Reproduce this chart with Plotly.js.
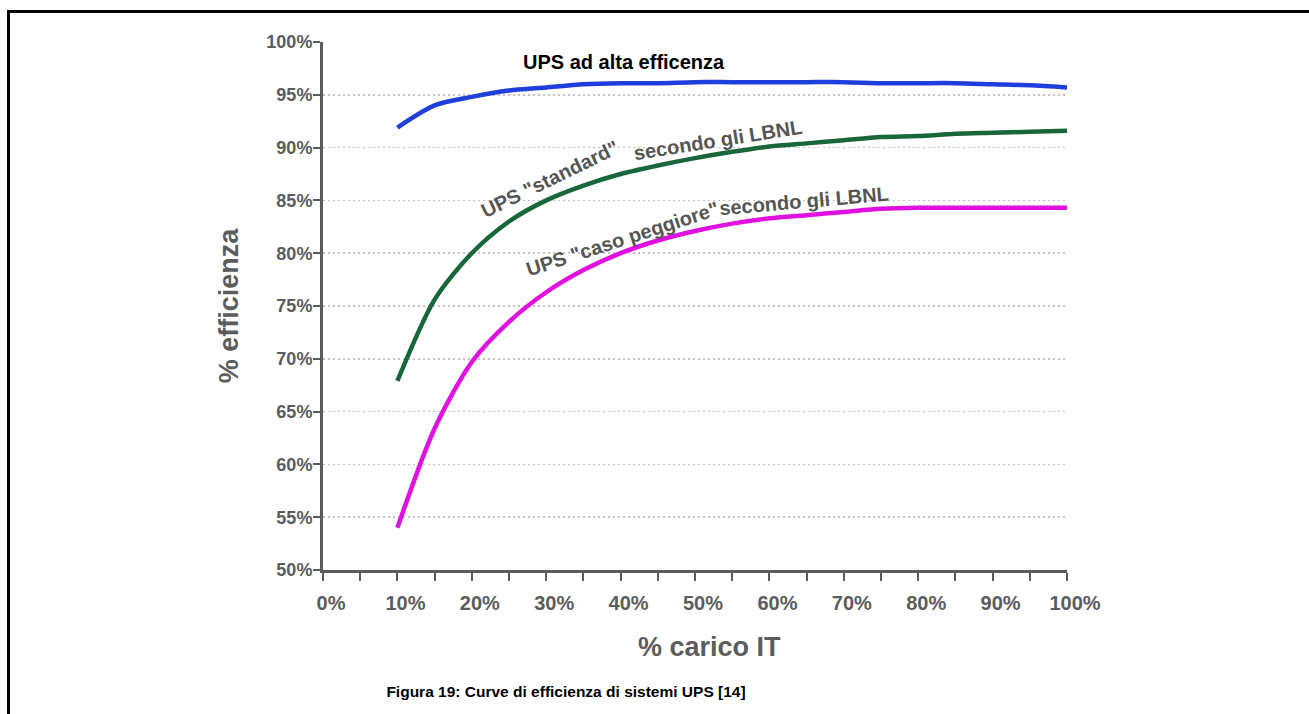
<!DOCTYPE html>
<html>
<head>
<meta charset="utf-8">
<script src="https://cdn.plot.ly/plotly-3.0.1.min.js"></script>
<style>
  html, body { margin: 0; padding: 0; background: #ffffff; overflow: hidden; width: 1309px; height: 714px; }
  #frame { position: absolute; left: 7px; top: 10px; width: 1302px; height: 704px; border-top: 3px solid #000; border-left: 3px solid #000; box-sizing: border-box; }
  #chart { position: absolute; left: 0; top: 0; width: 1309px; height: 714px; overflow: hidden; }
  .modebar-container { display: none !important; }
  #caption { position: absolute; left: 0; width: 1132px; top: 683px; text-align: center;
             font-family: "Liberation Sans", Arial, sans-serif; font-weight: bold; font-size: 15.5px; color: #000; }
</style>
</head>
<body>
<div id="frame"></div>
<div id="chart"></div>
<div id="caption">Figura 19: Curve di efficienza di sistemi UPS [14]</div>
<script>
// ---- data ----
const load = [10, 15, 20, 25, 30, 35, 40, 45, 50, 55, 60, 65, 70, 75, 80, 85, 90, 95, 100];
const upsHighEff   = [91.9, 94.0, 94.8, 95.4, 95.7, 96.0, 96.1, 96.1, 96.2, 96.2, 96.2, 96.2, 96.2, 96.1, 96.1, 96.1, 96.0, 95.9, 95.7];
const upsStandard  = [67.9, 75.6, 80.0, 83.0, 85.0, 86.4, 87.5, 88.3, 89.0, 89.6, 90.1, 90.4, 90.7, 91.0, 91.1, 91.3, 91.4, 91.5, 91.6];
const upsWorstCase = [54.0, 63.4, 69.7, 73.5, 76.3, 78.4, 80.0, 81.2, 82.1, 82.8, 83.3, 83.6, 83.9, 84.2, 84.3, 84.3, 84.3, 84.3, 84.3];
const xTickVals = [0, 10, 20, 30, 40, 50, 60, 70, 80, 90, 100];
const yTickVals = [50, 55, 60, 65, 70, 75, 80, 85, 90, 95, 100];
const labelHigh = "UPS ad alta efficenza";
const labelStdParts = ['UPS "standard"', 'secondo gli LBNL'];
const labelWorstParts = ['UPS "caso peggiore"', 'secondo gli LBNL'];
const xTitle = "% carico IT";
const yTitle = "% efficienza";

const FONT = '"Liberation Sans", Arial, sans-serif';
const GREY = '#5c5c5c';
const LABEL = '#555555';

const mk = (y, color) => ({
  x: load, y: y, type: 'scatter', mode: 'lines',
  line: { color: color, width: 4.5, shape: 'spline', smoothing: 0.8 },
  hoverinfo: 'skip', showlegend: false
});

const data = [
  mk(upsHighEff, '#1f3fdc'),
  mk(upsStandard, '#17673a'),
  mk(upsWorstCase, '#e010e0')
];

const lab = (x, y, text, angle, size, color) => ({
  xref: 'x', yref: 'y', x: x, y: y, text: '<b>' + text + '</b>', showarrow: false,
  textangle: angle, font: { family: FONT, size: size, color: color }
});

const layout = {
  width: 1309, height: 714,
  margin: { l: 323, r: 242, t: 42, b: 144 },
  paper_bgcolor: 'rgba(0,0,0,0)',
  plot_bgcolor: 'rgba(0,0,0,0)',
  font: { family: FONT, color: GREY },
  showlegend: false,
  xaxis: {
    range: [0, 100],
    tickvals: xTickVals,
    ticktext: xTickVals.map(v => v + '%'),
    showgrid: false, zeroline: false,
    showline: true, linecolor: GREY, linewidth: 3,
    ticks: 'outside', ticklen: 8, tickwidth: 2, tickcolor: GREY,
    minor: { dtick: 5, tick0: 0, ticks: 'outside', ticklen: 8, tickwidth: 2, tickcolor: GREY, showgrid: false },
    tickfont: { family: FONT, size: 20, color: GREY, weight: 'bold' },
    ticklabelstandoff: 5,
    ticklabelshift: 8,
    fixedrange: true
  },
  yaxis: {
    range: [50, 100],
    tickvals: yTickVals,
    ticktext: yTickVals.map(v => v + '%'),
    showgrid: true, gridcolor: '#c2c2c2', gridwidth: 1.5, griddash: '2px,3px',
    zeroline: false,
    showline: true, linecolor: GREY, linewidth: 3,
    ticks: 'outside', ticklen: 7, tickwidth: 2, tickcolor: GREY,
    tickfont: { family: FONT, size: 18, color: GREY, weight: 'bold' },
    ticklabelstandoff: -3,
    title: { text: '<b>' + yTitle + '</b>', font: { family: FONT, size: 27, color: GREY }, standoff: 20 },
    fixedrange: true
  },
  annotations: [
    lab(40.4, 98.1, labelHigh, 0, 20, '#000'),
    lab(30.5, 87.0, labelStdParts[0], -26, 20, LABEL),
    lab(53.1, 90.7, labelStdParts[1], -9, 20, LABEL),
    lab(40.2, 81.3, labelWorstParts[0], -18, 20, LABEL),
    lab(64.6, 84.9, labelWorstParts[1], -5, 20, LABEL),
    { xref: 'paper', yref: 'paper', x: 0.519, y: -0.146, yanchor: 'middle', xanchor: 'center',
      text: '<b>' + xTitle + '</b>', showarrow: false, font: { family: FONT, size: 27, color: GREY } }
  ]
};

Plotly.newPlot('chart', data, layout, { displayModeBar: false, staticPlot: true });
</script>
</body>
</html>
